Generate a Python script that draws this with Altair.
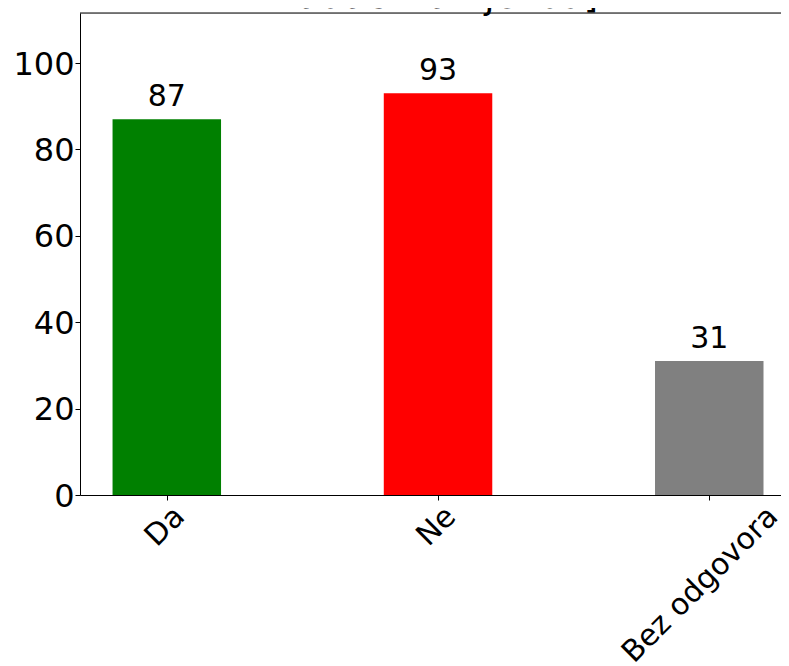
import altair as alt
import pandas as pd

categories = ["Da", "Ne", "Bez odgovora"]
counts = [87, 93, 31]
bar_colors = ["#008000", "#ff0000", "#808080"]
title_visible = "zadaci za vježbu]"
y_ticks = [0, 20, 40, 60, 80, 100]

df = pd.DataFrame({
    "cat": categories,
    "count": counts,
    "color": bar_colors,
    "i": list(range(len(categories))),
})

W, H = 709, 482
FONT = "DejaVu Sans"

xscale = alt.Scale(domain=[-0.32, 2.294], nice=False, zero=False)
yscale = alt.Scale(domain=[0, 111.6], nice=False, zero=True)

x_axis = alt.Axis(values=[0, 1, 2], labels=False, ticks=True, tickSize=5,
                  tickColor="black", tickWidth=1, domainColor="black",
                  domainWidth=1, grid=False, title=None)
y_axis = alt.Axis(values=y_ticks, labelFontSize=32, labelFont=FONT,
                  labelColor="black", tickSize=5, tickColor="black",
                  tickWidth=1, labelPadding=1, domainColor="black",
                  domainWidth=1, grid=False, title=None, labelOffset=1)

base = alt.Chart(df)

bars = base.transform_calculate(
    x0="datum.i - 0.2", x1="datum.i + 0.2", zero="0"
).mark_bar().encode(
    x=alt.X("x0:Q", scale=xscale, axis=x_axis),
    x2="x1:Q",
    y=alt.Y("count:Q", scale=yscale, axis=y_axis),
    y2="zero:Q",
    color=alt.Color("color:N", scale=None, legend=None),
)

bar_labels = base.mark_text(
    baseline="alphabetic", align="center", dy=-13, fontSize=30,
    font=FONT, color="black"
).encode(
    x=alt.X("i:Q", scale=xscale, axis=x_axis),
    y=alt.Y("count:Q", scale=yscale, axis=y_axis),
    text="count:Q",
)

x_labels = base.transform_calculate(
    lx="datum.i + (2.8 + 5.1*length(datum.cat))/271.2"
).mark_text(
    angle=315, align="right", baseline="middle", fontSize=30,
    font=FONT, color="black"
).encode(
    x=alt.X("lx:Q", scale=xscale, axis=x_axis),
    y=alt.value(499),
    text="cat:N",
)

top_spine = alt.Chart(pd.DataFrame({"a": [0]})).mark_rule(
    color="black", strokeWidth=1
).encode(x=alt.value(0), x2=alt.value(W), y=alt.value(0))

title = alt.Chart(pd.DataFrame({"t": [title_visible]})).mark_text(
    baseline="alphabetic", align="center", fontSize=37, font=FONT,
    color="black"
).encode(x=alt.value(358), y=alt.value(-5), text="t:N")

chart = alt.layer(bars, bar_labels, x_labels, top_spine, title).properties(
    width=W, height=H,
    autosize=alt.AutoSizeParams(type="none"),
    padding={"left": 72, "top": 5, "right": -8, "bottom": 171},
    background="white",
).configure_view(stroke=None).configure(font=FONT)

chart.save("out.html", embed_options={"renderer": "svg", "actions": False})
